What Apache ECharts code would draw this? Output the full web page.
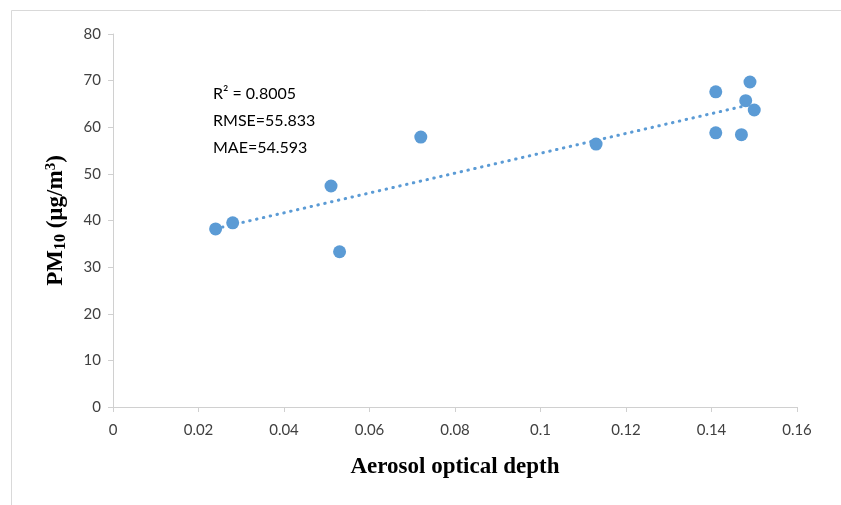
<!DOCTYPE html>
<html><head><meta charset="utf-8">
<script src="https://cdn.jsdelivr.net/npm/echarts@6/dist/echarts.min.js"></script>
<style>html,body{margin:0;padding:0;background:#fff}#c{width:841px;height:505px}</style>
</head><body><div id="c"></div>
<script>
const aod = [0.024, 0.028, 0.051, 0.053, 0.072, 0.113, 0.141, 0.141, 0.147, 0.148, 0.149, 0.150];
const pm10 = [38.2, 39.5, 47.4, 33.3, 57.9, 56.4, 67.6, 58.8, 58.4, 65.7, 69.7, 63.7];
const statsText = ['R\u00B2 = 0.8005', 'RMSE=55.833', 'MAE=54.593'];

// linear least-squares trendline (Excel-style) computed from the data
const n = aod.length;
const mx = aod.reduce((a,b)=>a+b,0)/n, my = pm10.reduce((a,b)=>a+b,0)/n;
let sxy=0,sxx=0; for(let i=0;i<n;i++){sxy+=(aod[i]-mx)*(pm10[i]-my);sxx+=(aod[i]-mx)**2;}
const slope=sxy/sxx, icpt=my-slope*mx;
const xmin=Math.min(...aod), xmax=Math.max(...aod);
const trend=[[xmin,icpt+slope*xmin],[xmax,icpt+slope*xmax]];

const chart = echarts.init(document.getElementById('c'));
const lblFont = 'Lato, "Open Sans", sans-serif';
const serif = '"Liberation Serif", serif';
chart.setOption({
  animation:false,
  backgroundColor:'#fff',
  grid:{left:113,right:44,top:34,bottom:98},
  xAxis:{type:'value',min:0,max:0.16,interval:0.02,
    axisLine:{show:true,lineStyle:{color:'#d0d0d0',width:1}},
    axisTick:{show:true,length:5,lineStyle:{color:'#d0d0d0'}},
    splitLine:{show:false},
    axisLabel:{color:'#404040',fontSize:15,fontFamily:lblFont,margin:16},
    name:'Aerosol optical depth',nameLocation:'middle',nameGap:49,
    nameTextStyle:{fontFamily:serif,fontWeight:'bold',fontSize:23,color:'#000'}
  },
  yAxis:{type:'value',min:0,max:80,interval:10,
    axisLine:{show:true,lineStyle:{color:'#d0d0d0',width:1}},
    axisTick:{show:true,length:5,lineStyle:{color:'#d0d0d0'}},
    splitLine:{show:false},
    axisLabel:{color:'#404040',fontSize:15,fontFamily:lblFont,margin:12},
    name:'{b|PM}{sub|10}{b| (\u00B5g/m}{sup|3}{b|)}',nameLocation:'middle',nameGap:44,nameRotate:90,
    nameTextStyle:{rich:{
      b:{fontFamily:serif,fontWeight:'bold',fontSize:23,color:'#000',verticalAlign:'middle'},
      sub:{fontFamily:serif,fontWeight:'bold',fontSize:16,color:'#000',verticalAlign:'bottom',padding:[9,0,0,0]},
      sup:{fontFamily:serif,fontWeight:'bold',fontSize:15,color:'#000',verticalAlign:'top',padding:[0,0,9,0]}
    }}
  },
  series:[
    {type:'line',data:trend,showSymbol:false,silent:true,z:1,
      lineStyle:{color:'#5b9bd5',width:3,type:[0.5,6.5],cap:'round'}},
    {type:'scatter',data:aod.map((x,i)=>[x,pm10[i]]),symbolSize:13,z:2,
      itemStyle:{color:'#5b9bd5',opacity:1}}
  ],
  graphic:[
    {type:'rect',left:9,top:8,shape:{width:840,height:500},style:{fill:'none',stroke:'#d9d9d9',lineWidth:1},z:-1},
    ...statsText.map((t,i)=>({type:'text',left:213,top:86+i*27,
      style:{text:t,fontFamily:lblFont,fontSize:16,fill:'#000'}}))
  ]
});
</script></body></html>
